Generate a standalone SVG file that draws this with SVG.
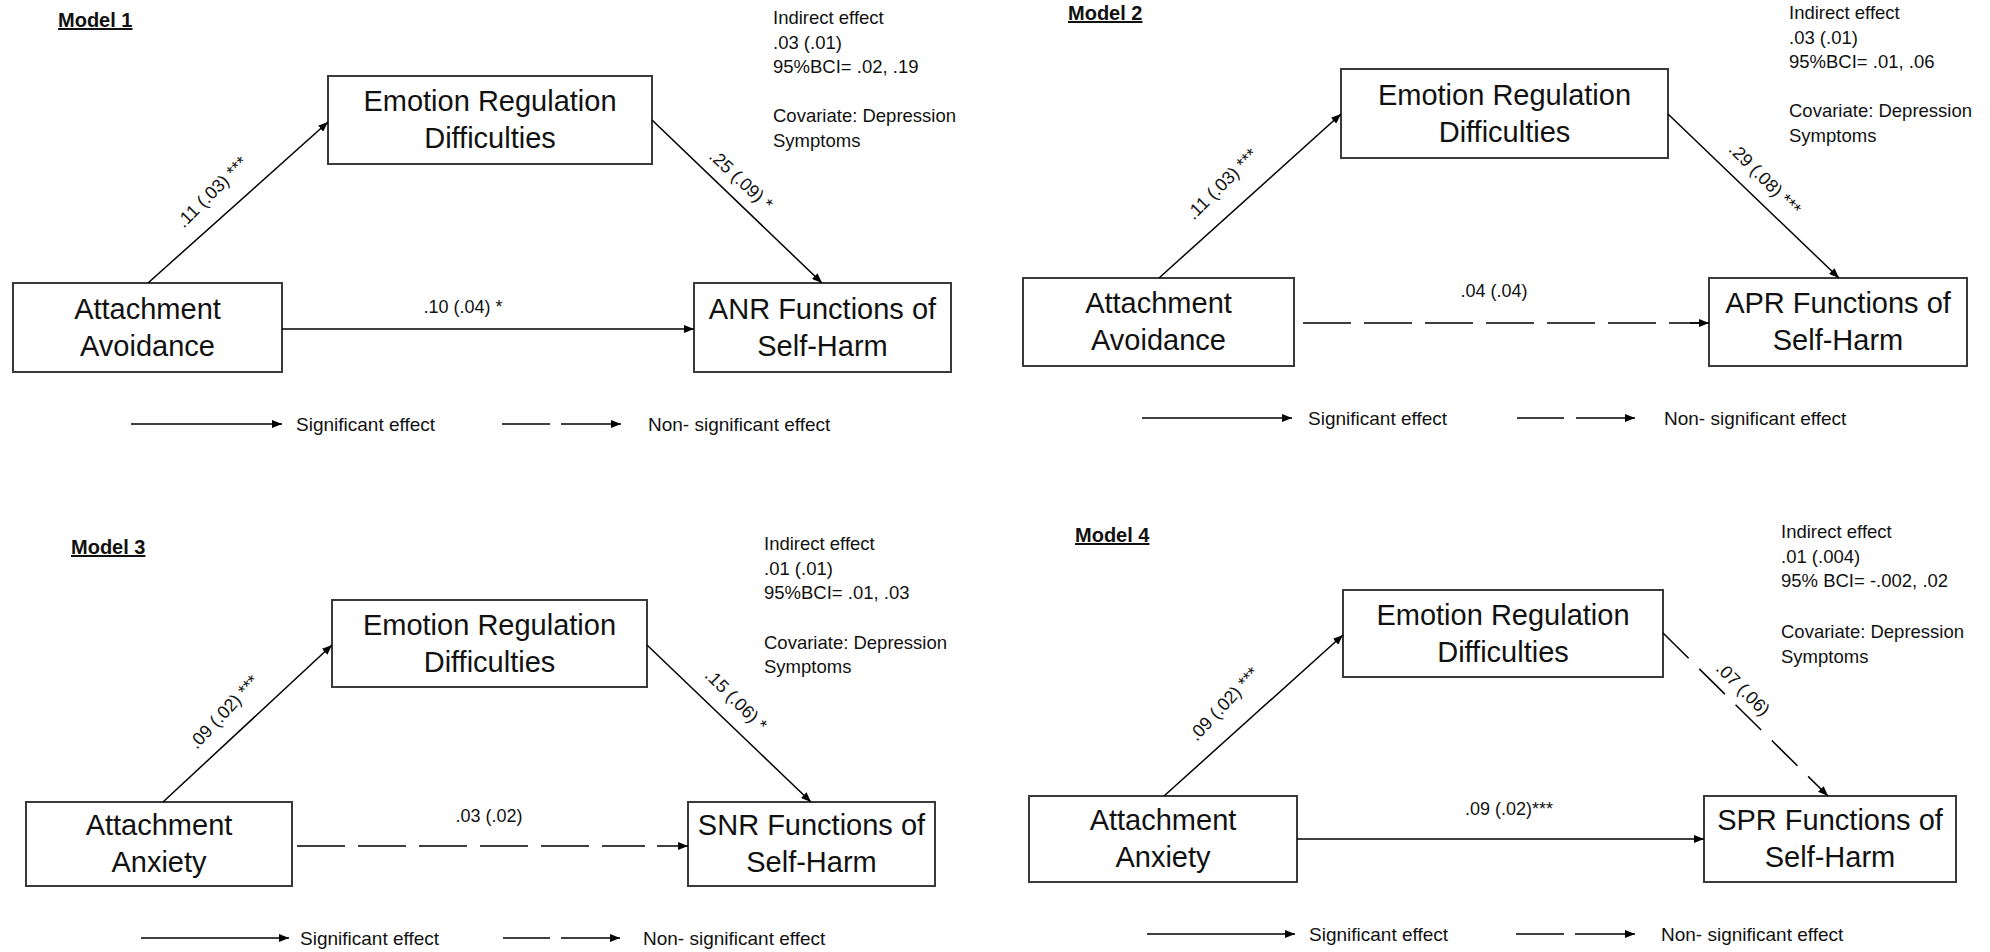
<svg xmlns="http://www.w3.org/2000/svg" width="1990" height="952" viewBox="0 0 1990 952">
<defs>
<marker id="ah" markerUnits="userSpaceOnUse" markerWidth="10" markerHeight="8" refX="10" refY="4" orient="auto">
<path d="M0,0 L10,4 L0,8 z" fill="#000"/>
</marker>
<style>
text{font-family:"Liberation Sans",Arial,sans-serif;fill:#111;}
.box{fill:#fff;stroke:#3a3a3a;stroke-width:2;}
.bt{font-size:29px;text-anchor:middle;}
.note{font-size:18.5px;}
.lbl{font-size:18px;text-anchor:middle;}
.leg{font-size:19px;}
.title{font-size:20px;font-weight:bold;text-decoration:underline;}
.ln{stroke:#000;stroke-width:1.5;fill:none;marker-end:url(#ah);}
.dl{stroke:#000;stroke-width:1.5;fill:none;stroke-dasharray:48 13;}
.dd{stroke:#000;stroke-width:1.5;fill:none;stroke-dasharray:36 15;marker-end:url(#ah);}
.nl{stroke:#000;stroke-width:1.5;fill:none;}
</style>
</defs>
<rect width="1990" height="952" fill="#fff"/>

<!-- Model 1 -->
<g id="m1-title"><text class="title" x="58" y="27">Model 1</text></g>
<g id="m1-note">
<text class="note" x="773" y="24">Indirect effect</text>
<text class="note" x="773" y="48.5">.03 (.01)</text>
<text class="note" x="773" y="73">95%BCI= .02, .19</text>
<text class="note" x="773" y="122">Covariate: Depression</text>
<text class="note" x="773" y="146.5">Symptoms</text>
</g>
<g id="m1-erd"><rect class="box" x="328" y="76" width="324" height="88"/><text class="bt" x="490" y="111">Emotion Regulation</text><text class="bt" x="490" y="148">Difficulties</text></g>
<g id="m1-aa"><rect class="box" x="13" y="283" width="269" height="89"/><text class="bt" x="147.5" y="318.5">Attachment</text><text class="bt" x="147.5" y="355.5">Avoidance</text></g>
<g id="m1-anr"><rect class="box" x="694" y="283" width="257" height="89"/><text class="bt" x="822.5" y="318.5">ANR Functions of</text><text class="bt" x="822.5" y="355.5">Self-Harm</text></g>

<!-- Model 2 -->
<g id="m2-title"><text class="title" x="1068" y="20">Model 2</text></g>
<g id="m2-note">
<text class="note" x="1789" y="19">Indirect effect</text>
<text class="note" x="1789" y="43.5">.03 (.01)</text>
<text class="note" x="1789" y="68">95%BCI= .01, .06</text>
<text class="note" x="1789" y="117">Covariate: Depression</text>
<text class="note" x="1789" y="141.5">Symptoms</text>
</g>
<g id="m2-erd"><rect class="box" x="1341" y="69" width="327" height="89"/><text class="bt" x="1504.5" y="104.5">Emotion Regulation</text><text class="bt" x="1504.5" y="141.5">Difficulties</text></g>
<g id="m2-aa"><rect class="box" x="1023" y="278" width="271" height="88"/><text class="bt" x="1158.5" y="313">Attachment</text><text class="bt" x="1158.5" y="350">Avoidance</text></g>
<g id="m2-apr"><rect class="box" x="1709" y="278" width="258" height="88"/><text class="bt" x="1838" y="313">APR Functions of</text><text class="bt" x="1838" y="350">Self-Harm</text></g>

<!-- Model 3 -->
<g id="m3-title"><text class="title" x="71" y="554">Model 3</text></g>
<g id="m3-note">
<text class="note" x="764" y="550">Indirect effect</text>
<text class="note" x="764" y="574.5">.01 (.01)</text>
<text class="note" x="764" y="599">95%BCI= .01, .03</text>
<text class="note" x="764" y="649">Covariate: Depression</text>
<text class="note" x="764" y="673">Symptoms</text>
</g>
<g id="m3-erd"><rect class="box" x="332" y="600" width="315" height="87"/><text class="bt" x="489.5" y="634.5">Emotion Regulation</text><text class="bt" x="489.5" y="671.5">Difficulties</text></g>
<g id="m3-aa"><rect class="box" x="26" y="802" width="266" height="84"/><text class="bt" x="159" y="835">Attachment</text><text class="bt" x="159" y="872">Anxiety</text></g>
<g id="m3-snr"><rect class="box" x="688" y="802" width="247" height="84"/><text class="bt" x="811.5" y="835">SNR Functions of</text><text class="bt" x="811.5" y="872">Self-Harm</text></g>

<!-- Model 4 -->
<g id="m4-title"><text class="title" x="1075" y="542">Model 4</text></g>
<g id="m4-note">
<text class="note" x="1781" y="538">Indirect effect</text>
<text class="note" x="1781" y="562.5">.01 (.004)</text>
<text class="note" x="1781" y="587">95% BCI= -.002, .02</text>
<text class="note" x="1781" y="638">Covariate: Depression</text>
<text class="note" x="1781" y="662.5">Symptoms</text>
</g>
<g id="m4-erd"><rect class="box" x="1343" y="590" width="320" height="87"/><text class="bt" x="1503" y="624.5">Emotion Regulation</text><text class="bt" x="1503" y="661.5">Difficulties</text></g>
<g id="m4-aa"><rect class="box" x="1029" y="796" width="268" height="86"/><text class="bt" x="1163" y="830">Attachment</text><text class="bt" x="1163" y="867">Anxiety</text></g>
<g id="m4-spr"><rect class="box" x="1704" y="796" width="252" height="86"/><text class="bt" x="1830" y="830">SPR Functions of</text><text class="bt" x="1830" y="867">Self-Harm</text></g>

<!-- Connectors -->
<g id="connectors">
<line class="ln" x1="148" y1="283" x2="328" y2="122"/>
<line class="ln" x1="652" y1="120" x2="822" y2="283"/>
<line class="ln" x1="282" y1="329" x2="694" y2="329"/>

<line class="ln" x1="1159" y1="278" x2="1341" y2="114"/>
<line class="ln" x1="1668" y1="114" x2="1839" y2="278"/>
<line class="dl" x1="1303" y1="323" x2="1700" y2="323"/>
<line class="ln" x1="1690" y1="323" x2="1709" y2="323"/>

<line class="ln" x1="163" y1="802" x2="332" y2="645"/>
<line class="ln" x1="647" y1="645" x2="811" y2="802"/>
<line class="dl" x1="297" y1="846" x2="645" y2="846"/>
<line class="ln" x1="657" y1="846" x2="688" y2="846"/>

<line class="ln" x1="1164" y1="796" x2="1343" y2="635"/>
<line class="dd" x1="1663" y1="633" x2="1828" y2="796"/>
<line class="ln" x1="1297" y1="839" x2="1704" y2="839"/>
</g>

<!-- Path labels -->
<g id="labels">
<text class="lbl" transform="translate(212,192) rotate(-45)" y="6">.11 (.03) ***</text>
<text class="lbl" transform="translate(741,180) rotate(43)" y="6">.25 (.09) *</text>
<text class="lbl" x="463" y="313">.10 (.04) *</text>

<text class="lbl" transform="translate(1222,184) rotate(-45)" y="6">.11 (.03) ***</text>
<text class="lbl" transform="translate(1765,179) rotate(45)" y="6">.29 (.08) ***</text>
<text class="lbl" x="1494" y="297">.04 (.04)</text>

<text class="lbl" transform="translate(224,712) rotate(-47)" y="6">.09 (.02) ***</text>
<text class="lbl" transform="translate(736,700) rotate(45)" y="6">.15 (.06) *</text>
<text class="lbl" x="489" y="822">.03 (.02)</text>

<text class="lbl" transform="translate(1224,704) rotate(-47)" y="6">.09 (.02) ***</text>
<text class="lbl" transform="translate(1743,689) rotate(45)" y="6">.07 (.06)</text>
<text class="lbl" x="1509" y="815">.09 (.02)***</text>
</g>

<!-- Legends -->
<g id="legend1">
<line class="ln" x1="131" y1="424" x2="282" y2="424"/>
<text class="leg" x="296" y="431">Significant effect</text>
<line class="nl" x1="502" y1="424" x2="550" y2="424"/>
<line class="ln" x1="561" y1="424" x2="621" y2="424"/>
<text class="leg" x="648" y="431">Non- significant effect</text>
</g>
<g id="legend2">
<line class="ln" x1="1142" y1="418" x2="1292" y2="418"/>
<text class="leg" x="1308" y="425">Significant effect</text>
<line class="nl" x1="1517" y1="418" x2="1564" y2="418"/>
<line class="ln" x1="1576" y1="418" x2="1635" y2="418"/>
<text class="leg" x="1664" y="425">Non- significant effect</text>
</g>
<g id="legend3">
<line class="ln" x1="141" y1="938" x2="289" y2="938"/>
<text class="leg" x="300" y="945">Significant effect</text>
<line class="nl" x1="503" y1="938" x2="550" y2="938"/>
<line class="ln" x1="561" y1="938" x2="620" y2="938"/>
<text class="leg" x="643" y="945">Non- significant effect</text>
</g>
<g id="legend4">
<line class="ln" x1="1147" y1="934" x2="1295" y2="934"/>
<text class="leg" x="1309" y="941">Significant effect</text>
<line class="nl" x1="1516" y1="934" x2="1564" y2="934"/>
<line class="ln" x1="1575" y1="934" x2="1635" y2="934"/>
<text class="leg" x="1661" y="941">Non- significant effect</text>
</g>
</svg>
